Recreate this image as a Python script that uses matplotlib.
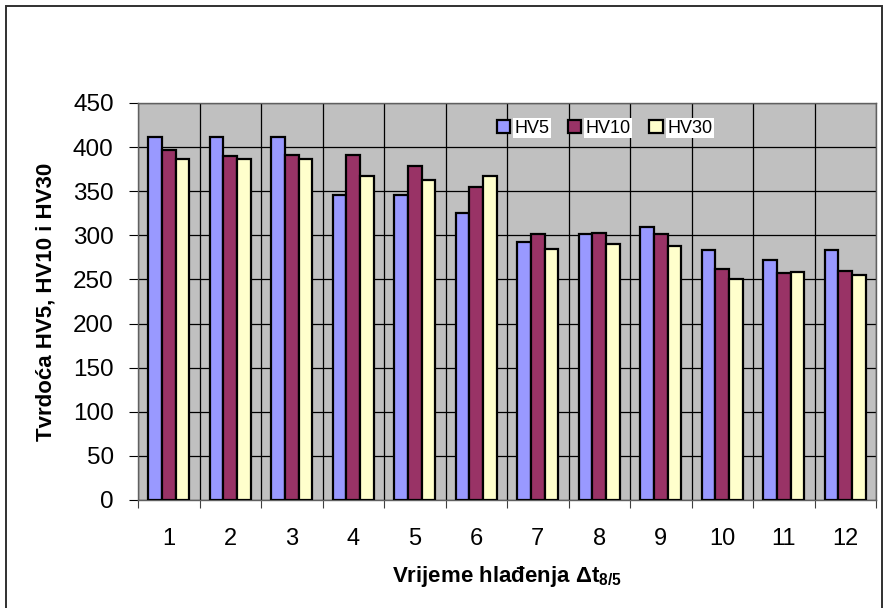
import numpy as np
import matplotlib.pyplot as plt
from matplotlib.patches import Rectangle

plt.rcParams['font.family'] = ['Liberation Sans', 'DejaVu Sans']
plt.rcParams['mathtext.fontset'] = 'custom'
plt.rcParams['mathtext.rm'] = 'Liberation Sans'
plt.rcParams['mathtext.bf'] = 'Liberation Sans:bold'

# podaci
kategorije = ['1', '2', '3', '4', '5', '6', '7', '8', '9', '10', '11', '12']
hv5 = [411, 411, 412, 346, 346, 325, 293, 301, 309, 283, 272, 283]
hv10 = [397, 390, 391, 391, 379, 355, 301, 303, 302, 262, 257, 260]
hv30 = [387, 386, 386, 367, 363, 367, 285, 290, 288, 251, 258, 255]
serije = [('HV5', hv5, '#9999FF'), ('HV10', hv10, '#993366'), ('HV30', hv30, '#FFFFCC')]

W, H = 885, 608
fig = plt.figure(figsize=(W / 100, H / 100), dpi=100)
# okvir oko grafikona (donji rub izvan slike)
fig.patches.append(Rectangle((6 / W, -10 / H), 876 / W, (H - 6 + 10) / H,
                             transform=fig.transFigure, fill=False,
                             edgecolor='#303030', linewidth=1.4))

ax = fig.add_axes([138 / W, (H - 500) / H, 738 / W, 397 / H])
ax.set_facecolor('#C0C0C0')

x = np.arange(len(kategorije))
w = 0.222
for k, (ime, vals, boja) in enumerate(serije):
    ax.bar(x + (k - 1) * w, vals, w, color=boja, edgecolor='black', linewidth=1.6,
           label=ime, zorder=3)

ax.set_xlim(-0.5, len(kategorije) - 0.5)
ax.set_ylim(0, 450)
ax.set_yticks(np.arange(0, 451, 50))
ax.set_xticks(np.arange(-0.5, len(kategorije), 1.0))
ax.set_xticklabels([])
ax.set_xticks(x, minor=True)
ax.set_xticklabels(kategorije, minor=True)
ax.tick_params(axis='x', which='major', length=6, color='#404040')
ax.tick_params(axis='x', which='minor', length=0, pad=20, labelsize=17)
ax.tick_params(axis='y', length=6.5, labelsize=17.5, pad=11)
ax.grid(True, which='major', color='black', linewidth=0.9, zorder=0)
ax.set_axisbelow(True)
for s in ax.spines.values():
    s.set_color('#606060')
    s.set_linewidth(1.0)

ax.set_xlabel(r'Vrijeme hlađenja Δt$\mathbf{_{8/5}}$', fontsize=16, fontweight='bold',
              labelpad=10)
ax.set_ylabel('Tvrdoća HV5, HV10 i HV30', fontsize=16, fontweight='bold', labelpad=12)

leg = ax.legend(loc='center', bbox_to_anchor=(0.632, 0.937), ncol=3, frameon=False,
                fontsize=13, handlelength=0.75, handleheight=0.75, handletextpad=0.25,
                columnspacing=1.0, borderaxespad=0)
for t in leg.get_texts():
    t.set_bbox(dict(facecolor='white', edgecolor='none', pad=1))

fig.savefig('out.png', dpi=100)
